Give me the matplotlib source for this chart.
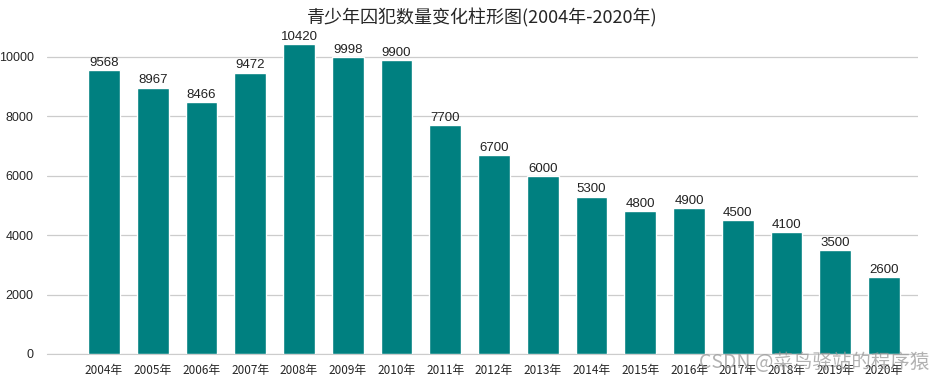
import matplotlib
matplotlib.use("Agg")
import matplotlib.pyplot as plt
import seaborn as sns

sns.set_style("whitegrid")
plt.rcParams["font.family"] = ["Liberation Sans", "Noto Sans CJK SC", "DejaVu Sans"]

BAR_COLOR = "#008080"
CJK = ["Noto Sans CJK SC", "DejaVu Sans"]

years = [f"{y}年" for y in range(2004, 2021)]
prisoners = [9568, 8967, 8466, 9472, 10420, 9998, 9900, 7700, 6700,
             6000, 5300, 4800, 4900, 4500, 4100, 3500, 2600]

fig = plt.figure(figsize=(9.47, 3.82), dpi=100)
ax = fig.add_axes([0.0496, 0.0733, 0.92, 0.851])

x = range(len(years))
bars = ax.bar(x, prisoners, width=0.65, color=BAR_COLOR, zorder=3)
for rect, v in zip(bars, prisoners):
    ax.text(rect.get_x() + rect.get_width() / 2, v + 40, str(v),
            ha="center", va="bottom", fontsize=9.5, color="#222222")

ax.set_xticks(list(x))
ax.set_xticklabels(years, fontsize=8.5, family=CJK)
ax.set_xlim(-1.17, 16.7)
ax.set_ylim(0, 10941)
ax.set_yticks([0, 2000, 4000, 6000, 8000, 10000])
ax.tick_params(axis="y", labelsize=9, pad=6)
ax.tick_params(axis="x", pad=4)
ax.grid(axis="x", visible=False)
ax.grid(axis="y", color="#cccccc", linewidth=0.9, zorder=0)
for s in ["left", "right", "top"]:
    ax.spines[s].set_visible(False)
ax.spines["bottom"].set_color("#cccccc")

ax.set_title("青少年囚犯数量变化柱形图(2004年-2020年)", family=CJK,
             fontsize=13, pad=4)

# watermark
fig.text(0.86, 0.05, "CSDN @菜鸟驿站的程序猿", ha="center", va="center",
         fontsize=14, color="#999999", alpha=0.75, family=CJK)

fig.savefig("out.png", dpi=100)
